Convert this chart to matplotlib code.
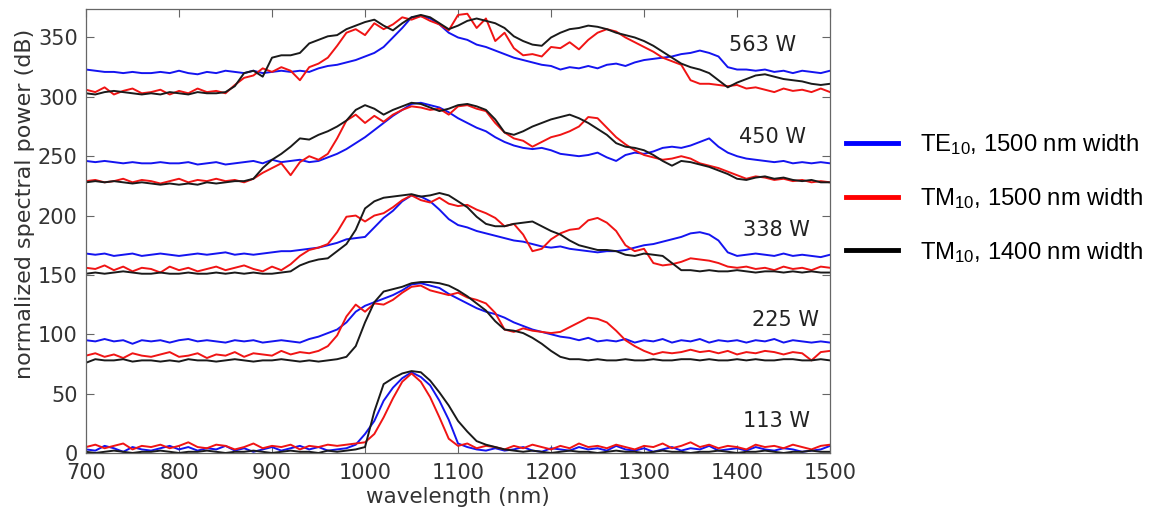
import matplotlib.pyplot as plt
import numpy as np
from matplotlib.lines import Line2D

plt.rcParams['mathtext.fontset'] = 'custom'
plt.rcParams['mathtext.rm'] = 'Liberation Sans'
plt.rcParams['mathtext.it'] = 'Liberation Sans:italic'

# wavelength grid (nm), 10 nm steps from 700 to 1500
wavelength = np.arange(700, 1501, 10)

# 563 W
te_563 = [323, 322, 321, 321, 320, 321, 320, 320, 321, 320, 322, 320, 319, 321, 320, 322, 321, 320, 322, 320,
          321, 322, 321, 322, 321, 324, 326, 327, 329, 331, 334, 337, 342, 350, 358, 367, 368, 366, 361, 354,
          350, 348, 344, 342, 339, 336, 333, 331, 329, 327, 326, 323, 325, 324, 326, 324, 327, 328, 326, 329,
          331, 332, 333, 334, 336, 337, 339, 337, 334, 325, 323, 323, 322, 323, 321, 322, 320, 322, 321, 320, 322]
tm15_563 = [306, 304, 308, 302, 305, 307, 303, 304, 306, 302, 305, 303, 307, 304, 305, 303, 310, 316, 318, 324,
            321, 325, 322, 314, 325, 328, 333, 343, 354, 357, 352, 362, 357, 361, 367, 365, 368, 364, 361, 356,
            369, 370, 358, 366, 347, 354, 341, 335, 336, 334, 342, 341, 346, 340, 348, 354, 357, 355, 350, 346,
            342, 338, 333, 330, 327, 314, 311, 311, 310, 309, 310, 307, 308, 306, 304, 307, 305, 306, 304, 307, 304]
tm14_563 = [303, 302, 304, 305, 304, 303, 302, 303, 302, 304, 303, 302, 304, 303, 303, 304, 309, 320, 322, 317,
            333, 335, 335, 337, 345, 348, 351, 352, 357, 360, 363, 365, 360, 356, 362, 367, 369, 367, 362, 357,
            360, 364, 366, 364, 362, 358, 351, 347, 344, 343, 350, 354, 357, 358, 360, 359, 357, 354, 352, 350,
            347, 343, 338, 333, 328, 325, 323, 320, 314, 308, 312, 315, 318, 319, 317, 315, 314, 313, 311, 310, 311]

# 450 W
te_450 = [246, 245, 246, 245, 244, 245, 244, 244, 245, 244, 244, 245, 243, 244, 245, 243, 244, 245, 246, 244,
          247, 245, 246, 247, 245, 246, 249, 252, 256, 261, 266, 272, 278, 284, 289, 294, 295, 293, 291, 287,
          282, 278, 274, 271, 266, 262, 259, 257, 256, 257, 255, 252, 251, 250, 251, 253, 249, 246, 251, 253,
          252, 254, 257, 258, 257, 259, 262, 265, 258, 253, 250, 248, 247, 246, 245, 246, 244, 245, 244, 245, 244]
tm15_450 = [229, 230, 228, 229, 231, 228, 230, 229, 227, 229, 231, 228, 230, 229, 231, 229, 230, 228, 231, 236,
            240, 244, 234, 245, 250, 247, 252, 265, 280, 285, 278, 284, 279, 285, 289, 292, 291, 289, 290, 285,
            292, 293, 290, 288, 278, 270, 265, 263, 258, 262, 266, 268, 271, 275, 283, 282, 274, 266, 260, 255,
            251, 249, 247, 248, 250, 248, 244, 242, 240, 237, 234, 231, 233, 232, 230, 231, 229, 230, 228, 229, 228]
tm14_450 = [228, 229, 228, 229, 228, 227, 228, 227, 226, 227, 226, 227, 226, 228, 227, 228, 229, 229, 231, 240,
            247, 252, 258, 265, 264, 268, 271, 275, 280, 289, 293, 290, 285, 289, 292, 295, 294, 291, 288, 290,
            293, 294, 292, 289, 281, 270, 268, 271, 275, 278, 281, 283, 285, 282, 278, 273, 268, 261, 258, 257,
            255, 251, 246, 242, 246, 245, 243, 241, 238, 235, 231, 230, 232, 233, 231, 232, 230, 229, 230, 228, 228]

# 338 W
te_338 = [168, 167, 168, 166, 167, 168, 166, 167, 168, 167, 166, 167, 168, 167, 168, 169, 167, 168, 167, 168,
          169, 170, 170, 171, 172, 173, 175, 177, 180, 181, 182, 190, 198, 204, 212, 217, 216, 212, 205, 197,
          192, 190, 187, 185, 183, 181, 179, 178, 176, 174, 173, 174, 172, 171, 170, 169, 170, 170, 171, 173,
          175, 176, 178, 180, 182, 185, 186, 184, 179, 169, 166, 167, 168, 167, 166, 168, 166, 167, 166, 165, 167]
tm15_338 = [156, 155, 158, 154, 157, 153, 156, 155, 152, 157, 154, 156, 153, 155, 157, 154, 156, 158, 155, 153,
            157, 154, 159, 166, 171, 173, 176, 186, 199, 200, 195, 200, 202, 207, 213, 217, 213, 211, 215, 210,
            208, 209, 205, 202, 198, 191, 193, 184, 170, 172, 180, 185, 188, 189, 196, 198, 194, 187, 175, 170,
            172, 160, 158, 159, 161, 164, 163, 162, 160, 157, 156, 157, 155, 156, 154, 157, 155, 156, 154, 157, 156]
tm14_338 = [151, 152, 151, 152, 153, 152, 151, 151, 152, 151, 151, 152, 151, 151, 152, 151, 152, 151, 152, 151,
            151, 152, 153, 158, 161, 163, 164, 170, 176, 188, 206, 212, 215, 216, 217, 218, 216, 217, 219, 217,
            212, 207, 199, 193, 191, 191, 193, 194, 195, 191, 187, 184, 179, 175, 173, 171, 171, 170, 167, 166,
            168, 167, 166, 160, 154, 154, 153, 154, 153, 153, 154, 153, 152, 153, 153, 152, 153, 152, 153, 152, 152]

# 225 W
te_225 = [95, 94, 96, 94, 95, 92, 95, 94, 95, 93, 95, 96, 94, 95, 94, 93, 95, 94, 95, 93,
          94, 95, 94, 93, 96, 98, 101, 104, 110, 119, 124, 127, 130, 133, 137, 142, 143, 141, 139, 134,
          130, 126, 122, 119, 117, 114, 110, 107, 104, 102, 100, 98, 97, 95, 97, 94, 95, 94, 96, 93,
          95, 94, 96, 93, 95, 94, 96, 93, 95, 94, 95, 93, 95, 94, 96, 93, 95, 94, 93, 94, 93]
tm15_225 = [82, 84, 81, 83, 80, 84, 82, 81, 83, 85, 81, 82, 84, 80, 83, 82, 85, 81, 84, 83,
            82, 86, 83, 85, 84, 86, 90, 99, 115, 125, 119, 126, 125, 129, 135, 140, 141, 137, 135, 133,
            135, 131, 129, 126, 118, 104, 102, 105, 103, 102, 101, 102, 106, 110, 114, 113, 110, 103, 95, 90,
            86, 83, 85, 84, 85, 87, 85, 86, 84, 86, 83, 85, 84, 86, 85, 83, 85, 84, 78, 85, 86]
tm14_225 = [76, 79, 78, 78, 79, 77, 78, 78, 77, 78, 77, 79, 78, 78, 77, 78, 79, 78, 77, 78,
            78, 79, 78, 77, 78, 77, 78, 79, 81, 90, 110, 127, 136, 138, 140, 143, 144, 144, 143, 141,
            137, 132, 126, 120, 111, 104, 103, 101, 97, 92, 86, 81, 79, 79, 78, 79, 78, 78, 79, 78,
            78, 79, 78, 78, 79, 79, 78, 79, 78, 78, 79, 78, 79, 78, 78, 79, 79, 78, 78, 79, 78]

# 113 W
te_113 = [3, 2, 6, 4, 1, 5, 3, 2, 4, 6, 3, 5, 2, 4, 3, 6, 2, 4, 1, 3,
          5, 2, 4, 6, 3, 5, 2, 3, 4, 7, 16, 27, 44, 55, 63, 68, 64, 57, 44, 28,
          8, 5, 3, 2, 4, 2, 3, 5, 2, 1, 4, 3, 2, 5, 3, 4, 2, 6, 3, 2,
          4, 1, 3, 5, 2, 4, 3, 6, 2, 3, 4, 2, 5, 3, 2, 4, 3, 1, 2, 3, 6]
tm15_113 = [5, 7, 4, 6, 8, 3, 6, 5, 7, 4, 6, 9, 5, 4, 7, 6, 3, 5, 8, 4,
            6, 5, 7, 3, 6, 5, 7, 6, 7, 8, 9, 16, 30, 46, 60, 67, 60, 47, 30, 12,
            6, 8, 4, 6, 5, 3, 6, 4, 7, 5, 3, 6, 4, 8, 5, 6, 4, 7, 5, 3,
            6, 5, 8, 4, 6, 9, 5, 7, 4, 6, 5, 3, 7, 5, 6, 4, 7, 5, 3, 6, 7]
tm14_113 = [1, 0, 1, 2, 1, 0, 1, 1, 2, 1, 0, 1, 1, 2, 1, 0, 1, 1, 2, 1,
            0, 1, 2, 1, 1, 0, 2, 1, 2, 3, 5, 35, 58, 63, 67, 69, 68, 61, 51, 40,
            27, 18, 10, 7, 5, 3, 2, 1, 2, 1, 0, 1, 2, 1, 1, 0, 1, 2, 1, 1,
            0, 1, 2, 1, 1, 0, 1, 1, 2, 1, 0, 1, 1, 2, 1, 0, 1, 1, 2, 1, 1]

powers = ['563 W', '450 W', '338 W', '225 W', '113 W']
label_pos = [(1427, 344), (1438, 266), (1442, 188), (1452, 112), (1442, 27)]

te_all = [te_563, te_450, te_338, te_225, te_113]
tm15_all = [tm15_563, tm15_450, tm15_338, tm15_225, tm15_113]
tm14_all = [tm14_563, tm14_450, tm14_338, tm14_225, tm14_113]

c_blue = '#1414f0'
c_red = '#f01414'
c_black = '#1a1a1a'

fig = plt.figure(figsize=(11.59, 5.14), dpi=100)
ax = fig.add_axes([0.0742, 0.1187, 0.6420, 0.8638])

for te, tm15, tm14 in zip(te_all, tm15_all, tm14_all):
    ax.plot(wavelength, te, color=c_blue, lw=1.4)
    ax.plot(wavelength, tm15, color=c_red, lw=1.4)
    ax.plot(wavelength, tm14, color=c_black, lw=1.4)

for txt, (x, y) in zip(powers, label_pos):
    ax.text(x, y, txt, fontsize=15, color='#222222', ha='center', va='center')

ax.set_xlim(700, 1500)
ax.set_ylim(0, 374)
ax.set_xticks(np.arange(700, 1501, 100))
ax.set_yticks(np.arange(0, 351, 50))
ax.tick_params(direction='in', top=True, right=True, length=6, labelsize=15,
               labelcolor='#333333', color='#666666')
ax.tick_params(axis='x', pad=7)
ax.tick_params(axis='y', pad=6)
for s in ax.spines.values():
    s.set_color('#666666')
    s.set_linewidth(0.9)
ax.set_xlabel('wavelength (nm)', fontsize=15.5, color='#333333', labelpad=3)
ax.set_ylabel('normalized spectral power (dB)', fontsize=16, color='#333333')
ax.yaxis.set_label_coords(-0.068, 0.56)

handles = [Line2D([], [], color='#0000ff', lw=3.5),
           Line2D([], [], color='#ff0000', lw=3.5),
           Line2D([], [], color='#000000', lw=3.5)]
labels = ['TE$_{10}$, 1500 nm width', 'TM$_{10}$, 1500 nm width', 'TM$_{10}$, 1400 nm width']
leg = fig.legend(handles, labels, loc='upper left', bbox_to_anchor=(0.711, 0.784),
                 frameon=False, handlelength=2.2, handletextpad=0.9, labelspacing=1.2,
                 prop={'family': 'Liberation Sans', 'size': 17.2})

plt.savefig('out.png', dpi=100)
